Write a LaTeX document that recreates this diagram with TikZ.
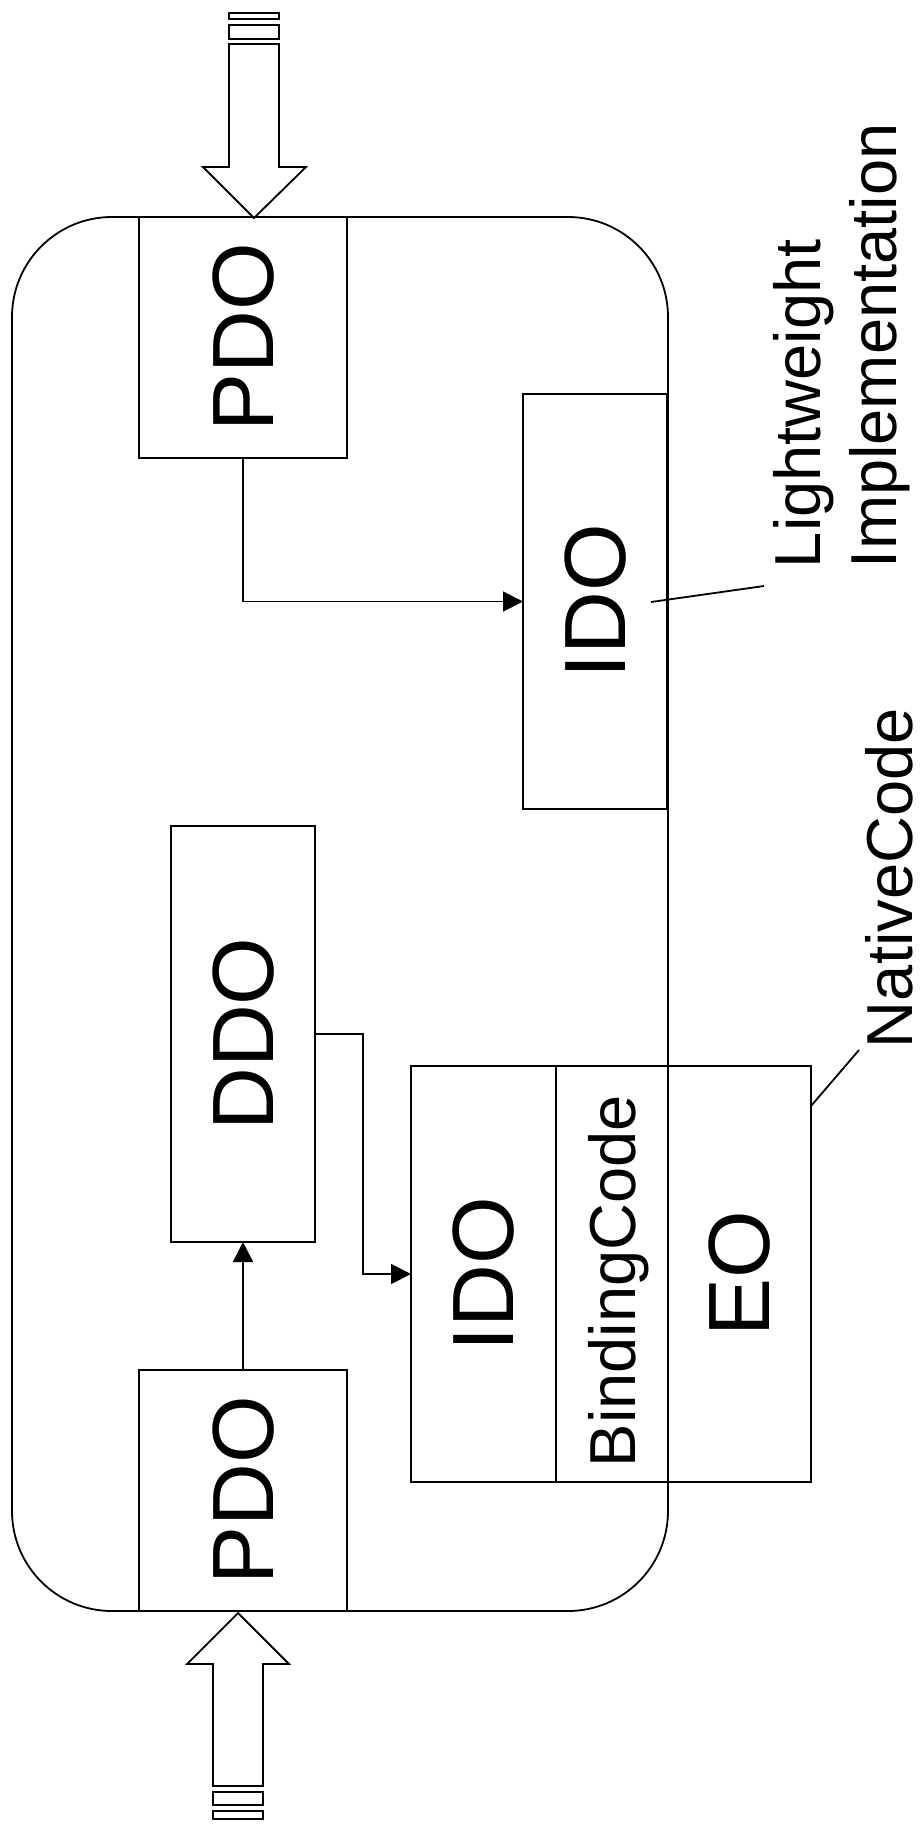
\documentclass[tikz,border=0pt]{standalone}
\usepackage{fontspec}
\setmainfont{Liberation Sans}
\usepackage{graphicx}
\usetikzlibrary{arrows.meta, positioning}

\newcommand{\uptext}[1]{\rotatebox{90}{\raisebox{0pt}[\height][0pt]{#1}}}

\begin{document}
\begin{tikzpicture}[x=1pt, y=-1pt, line width=1.8pt,
		>={Triangle[length=20pt, width=20pt]}
	]

	\tikzset{
		block/.style={
				draw, rectangle, inner sep=0pt, outer sep=0pt, font=\fontsize{87}{104}\selectfont
			},
		tag/.style={
				inner sep=0pt, outer sep=0pt, rotate=90, font=\fontsize{65}{76}\selectfont
			},
	}
	\useasboundingbox (0,0) rectangle (921,1832);

	% component frame
	\draw[rounded corners=100pt] (12,217) rectangle (668,1611);

	\node[block, minimum width=208pt, minimum height=241pt] (pdoA) at (243,337.5) {\uptext{PDO}};
	\node[block, minimum width=208pt, minimum height=241pt] (pdoB) at (243,1490.5) {\uptext{PDO}};
	\node[block, minimum width=144pt, minimum height=416pt, above=128pt of pdoB] (ddo) {\uptext{DDO}};
	\node[block, minimum width=144pt, minimum height=415pt] (idoA) at (595,601.5) {\uptext{IDO}};

	\node[block, minimum width=145pt, minimum height=416pt] (idoB) at (483.5,1274) {\uptext{IDO}};
	\node[block, minimum width=112pt, minimum height=416pt, right=0pt of idoB, font=\fontsize{65}{76}\selectfont] (bind) {\uptext{BindingCode\hspace{14pt}}};
	\node[block, minimum width=143pt, minimum height=416pt, right=0pt of bind] (eo) {\uptext{EO}};

	\draw[->] (pdoA.south) |- (idoA.west);
	\draw[->] (ddo.east) -- ++(48,0) |- (idoB.west);
	\draw[->] (pdoB.north) -- (ddo.south);

	% labels
	\node[tag, anchor=north west, align=left] (light) at (773,568) {Lightweight\\Implementation};
	\node[tag, anchor=base west] (native) at (912,1048) {\raisebox{0pt}[\height][0pt]{NativeCode}};

	\coordinate (lightIn) at (651,602);
	\coordinate (lightOut) at (764,586);
	\coordinate (nativeIn) at (811,1106);
	\coordinate (nativeOut) at (859,1050);
	\draw (lightIn) -- (lightOut);
	\draw (nativeIn) -- (nativeOut);

	% in and out ports
	\draw (229,44) -- (229,167) -- (203,167) -- (254,218) -- (306,167) -- (279,167) -- (279,44) -- cycle;
	\draw (229,25) rectangle (279,39);
	\draw (229,13) rectangle (279,19);

	\draw (213,1786) -- (213,1664) -- (187,1664) -- (238,1613) -- (289,1664) -- (263,1664) -- (263,1786) -- cycle;
	\draw (213,1792) rectangle (263,1805);
	\draw (213,1811) rectangle (263,1819);

\end{tikzpicture}
\end{document}
